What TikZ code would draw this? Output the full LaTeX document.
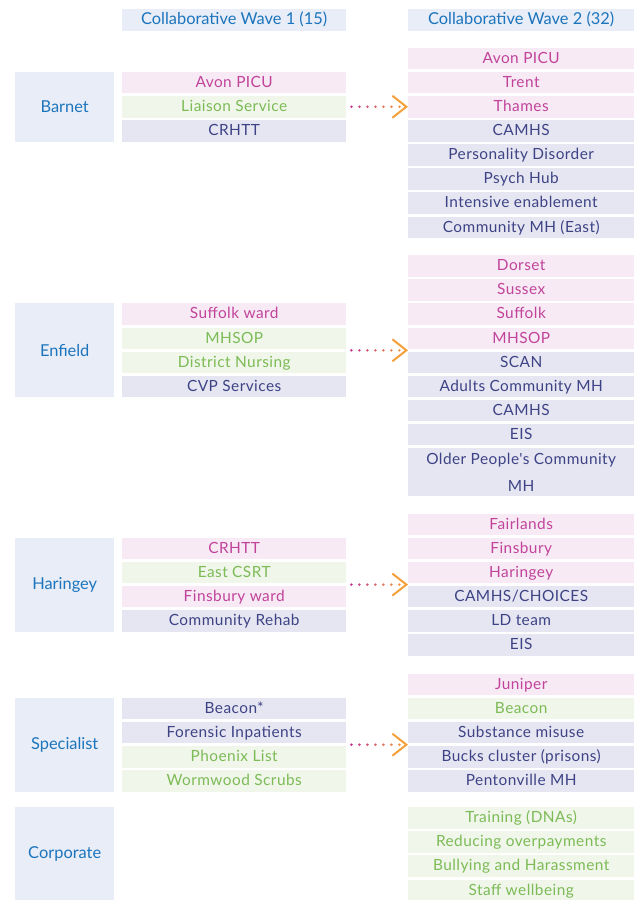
\documentclass[tikz,border=0pt]{standalone}
\usepackage{fontspec}
\setmainfont{Lato}
\newfontfamily\cellfamily[LetterSpace=3]{Lato}
\usetikzlibrary{arrows.meta,decorations.markings}

\definecolor{areabg}{HTML}{E8EDF8}
\definecolor{areatxt}{HTML}{1C75BC}
\definecolor{pinkbg}{HTML}{F7EAF5}
\definecolor{pinktxt}{HTML}{C1439A}
\definecolor{greenbg}{HTML}{F0F6EA}
\definecolor{greentxt}{HTML}{7CBB56}
\definecolor{navybg}{HTML}{E6E6F2}
\definecolor{navytxt}{HTML}{3D4385}
\definecolor{linkpink}{HTML}{C7358F}
\definecolor{linkorange}{HTML}{F4A03A}

\newcommand{\wavefont}{\cellfamily\fontsize{15.4pt}{18pt}\selectfont}
\newcommand{\areafont}{\fontsize{16.4pt}{19pt}\selectfont}

\begin{document}
\begin{tikzpicture}[x=1pt, y=-1pt,
    cell/.style={rectangle, anchor=north west, inner sep=0pt, minimum height=21.5pt,
      text height=11pt, text depth=1.5pt, font=\wavefont},
    w1/.style={cell, minimum width=224pt},
    w2/.style={cell, minimum width=226pt},
    headcell/.style={fill=areabg, text=areatxt, font=\areafont},
    pinkcell/.style={fill=pinkbg, text=pinktxt},
    greencell/.style={fill=greenbg, text=greentxt},
    navycell/.style={fill=navybg, text=navytxt},
    area/.style={rectangle, anchor=north west, inner sep=0pt, minimum width=99pt,
      minimum height=93.8pt, fill=areabg, text=areatxt, font=\areafont},
    link/.style={postaction={decorate}, decoration={markings,
      mark=between positions 5pt and 54pt step 8pt with {%
        \pgfmathtruncatemacro{\dotmix}{115-15*\pgfkeysvalueof{/pgf/decoration/mark info/sequence number}}%
        \fill[linkpink!\dotmix!linkorange] (0,0) circle (1.4pt);},
      mark=at position 1 with {\arrow[linkorange]{Straight Barb[length=14pt, width=22pt, line width=2pt]}}}}
  ]

  \useasboundingbox (0,0) rectangle (634,900);

  % Headers
  \node[w1, headcell] (head1) at (122,9) {Collaborative Wave 1 (15)};
  \node[w2, headcell] (head2) at (408,9) {Collaborative Wave 2 (32)};

  % Barnet
  \node[area, minimum height=69.7pt] (barnet) at (15,71.7) {Barnet};
  \node[w1, pinkcell] (barnetL1) at (122,71.7) {Avon PICU};
  \node[w1, greencell] (barnetL2) at (122,95.8) {Liaison Service};
  \node[w1, navycell] (barnetL3) at (122,119.9) {CRHTT};
  \node[w2, pinkcell] (barnetR1) at (408,47.6) {Avon PICU};
  \node[w2, pinkcell] (barnetR2) at (408,71.7) {Trent};
  \node[w2, pinkcell] (barnetR3) at (408,95.8) {Thames};
  \node[w2, navycell] (barnetR4) at (408,119.9) {CAMHS};
  \node[w2, navycell] (barnetR5) at (408,144.0) {Personality Disorder};
  \node[w2, navycell] (barnetR6) at (408,168.1) {Psych Hub};
  \node[w2, navycell] (barnetR7) at (408,192.2) {Intensive enablement};
  \node[w2, navycell] (barnetR8) at (408,216.3) {Community MH (East)};
  \path[link] (barnet.east -| barnetL1.east) -- (barnet.east -| barnetR1.west);

  % Enfield
  \node[area] (enfield) at (15,303.2) {Enfield};
  \node[w1, pinkcell] (enfieldL1) at (122,303.2) {Suffolk ward};
  \node[w1, greencell] (enfieldL2) at (122,327.3) {MHSOP};
  \node[w1, greencell] (enfieldL3) at (122,351.4) {District Nursing};
  \node[w1, navycell] (enfieldL4) at (122,375.5) {CVP Services};
  \node[w2, pinkcell] (enfieldR1) at (408,255.0) {Dorset};
  \node[w2, pinkcell] (enfieldR2) at (408,279.1) {Sussex};
  \node[w2, pinkcell] (enfieldR3) at (408,303.2) {Suffolk};
  \node[w2, pinkcell] (enfieldR4) at (408,327.3) {MHSOP};
  \node[w2, navycell] (enfieldR5) at (408,351.4) {SCAN};
  \node[w2, navycell] (enfieldR6) at (408,375.5) {Adults Community MH};
  \node[w2, navycell] (enfieldR7) at (408,399.6) {CAMHS};
  \node[w2, navycell] (enfieldR8) at (408,423.7) {EIS};
  \node[w2, navycell, minimum height=48pt, text height={}, text depth={}, align=center]
    (enfieldR9) at (408,447.8) {Older People's Community\\[8.8pt]MH};
  \path[link] (enfield.east -| enfieldL1.east) -- (enfield.east -| enfieldR1.west);

  % Haringey
  \node[area] (haringey) at (15,537.5) {Haringey};
  \node[w1, pinkcell] (haringeyL1) at (122,537.5) {CRHTT};
  \node[w1, greencell] (haringeyL2) at (122,561.6) {East CSRT};
  \node[w1, pinkcell] (haringeyL3) at (122,585.7) {Finsbury ward};
  \node[w1, navycell] (haringeyL4) at (122,609.8) {Community Rehab};
  \node[w2, pinkcell] (haringeyR1) at (408,513.4) {Fairlands};
  \node[w2, pinkcell] (haringeyR2) at (408,537.5) {Finsbury};
  \node[w2, pinkcell] (haringeyR3) at (408,561.6) {Haringey};
  \node[w2, navycell] (haringeyR4) at (408,585.7) {CAMHS/CHOICES};
  \node[w2, navycell] (haringeyR5) at (408,609.8) {LD team};
  \node[w2, navycell] (haringeyR6) at (408,633.9) {EIS};
  \path[link] (haringey.east -| haringeyL1.east) -- (haringey.east -| haringeyR1.west);

  % Specialist
  \node[area] (specialist) at (15,697.6) {Specialist};
  \node[w1, navycell] (specialistL1) at (122,697.6) {Beacon*};
  \node[w1, navycell] (specialistL2) at (122,721.7) {Forensic Inpatients};
  \node[w1, greencell] (specialistL3) at (122,745.8) {Phoenix List};
  \node[w1, greencell] (specialistL4) at (122,769.9) {Wormwood Scrubs};
  \node[w2, pinkcell] (specialistR1) at (408,673.5) {Juniper};
  \node[w2, greencell] (specialistR2) at (408,697.6) {Beacon};
  \node[w2, navycell] (specialistR3) at (408,721.7) {Substance misuse};
  \node[w2, navycell] (specialistR4) at (408,745.8) {Bucks cluster (prisons)};
  \node[w2, navycell] (specialistR5) at (408,769.9) {Pentonville MH};
  \path[link] (specialist.east -| specialistL1.east) -- (specialist.east -| specialistR1.west);

  % Corporate
  \node[area] (corporate) at (15,807) {Corporate};
  \node[w2, greencell] (corporateR1) at (408,807.0) {Training (DNAs)};
  \node[w2, greencell] (corporateR2) at (408,831.1) {Reducing overpayments};
  \node[w2, greencell] (corporateR3) at (408,855.2) {Bullying and Harassment};
  \node[w2, greencell] (corporateR4) at (408,879.3) {Staff wellbeing};

\end{tikzpicture}
\end{document}
